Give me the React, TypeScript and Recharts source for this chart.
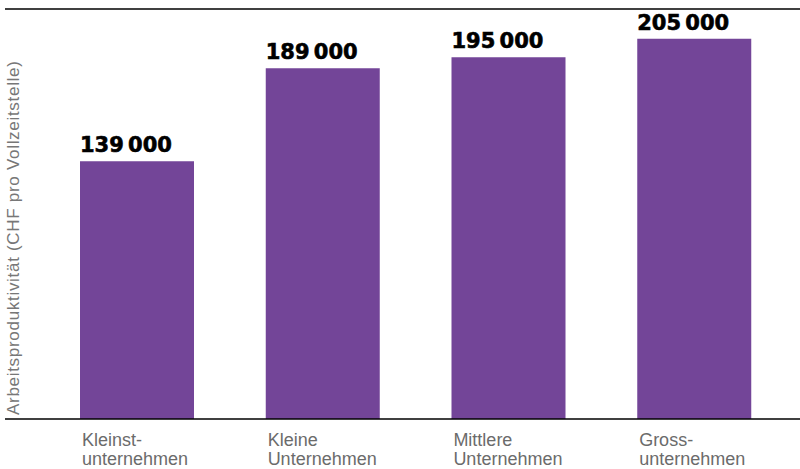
import { BarChart, Bar, XAxis, YAxis, LabelList, ReferenceLine } from "recharts"

const categories = ["Kleinst-\nunternehmen", "Kleine\nUnternehmen", "Mittlere\nUnternehmen", "Gross-\nunternehmen"]
const productivity = [139000, 189000, 195000, 205000]
const yMax = 221000
const yTitle = "Arbeitsproduktivität (CHF pro Vollzeitstelle)"

const data = categories.map((name, i) => ({ name, value: productivity[i] }))

const BAR_SIZE = 114
const PURPLE = "#734598"

const formatValue = (v: number) => `${Math.floor(v / 1000)}\u2009${String(v % 1000).padStart(3, "0")}`

const CategoryTick = ({ x, y, payload }: any) => {
  const lines = String(payload.value).split("\n")
  return (
    <text x={x - BAR_SIZE / 2 + 2} y={y} fill="#6b6b6b" fontSize={18} fontFamily="'Liberation Sans', Arial, sans-serif" textAnchor="start">
      {lines.map((line, i) => (
        <tspan key={i} x={x - BAR_SIZE / 2 + 2} dy={i === 0 ? 27 : 19}>
          {line}
        </tspan>
      ))}
    </text>
  )
}

const ValueLabel = ({ x, y, value }: any) => (
  <text
    x={x}
    y={y - 9}
    fill="#000"
    stroke="#000"
    strokeWidth={0.6}
    fontSize={21}
    fontWeight="bold"
    fontFamily="'DejaVu Sans', sans-serif"
    textAnchor="start"
  >
    {formatValue(value)}
  </text>
)

const YTitle = ({ viewBox }: any) => {
  const px = viewBox.x + 19
  const py = viewBox.y + viewBox.height - 4
  return (
    <text
      x={px}
      y={py}
      transform={`rotate(-90 ${px} ${py})`}
      fill="#777"
      fontSize={17}
      letterSpacing={0.7}
      fontFamily="'Liberation Sans', Arial, sans-serif"
      textAnchor="start"
    >
      {yTitle}
    </text>
  )
}

export default function App() {
  return (
    <div style={{ position: "absolute", left: 0, top: 0, background: "#fff" }}>
      <BarChart width={800} height={469} data={data} margin={{ top: 9, right: 0, bottom: 0, left: 0 }}>
        <YAxis width={5} domain={[0, yMax]} tick={false} axisLine={false} tickLine={false} label={<YTitle />} />
        <XAxis
          dataKey="name"
          height={50}
          padding={{ left: 39, right: 13 }}
          tickLine={false}
          tickSize={0}
          tickMargin={0}
          axisLine={{ stroke: "#000", strokeWidth: 1.5 }}
          tick={<CategoryTick />}
          interval={0}
        />
        <ReferenceLine y={yMax} stroke="#000" strokeWidth={1.5} />
        <Bar dataKey="value" fill={PURPLE} barSize={BAR_SIZE} isAnimationActive={false}>
          <LabelList dataKey="value" content={<ValueLabel />} />
        </Bar>
      </BarChart>
    </div>
  )
}
